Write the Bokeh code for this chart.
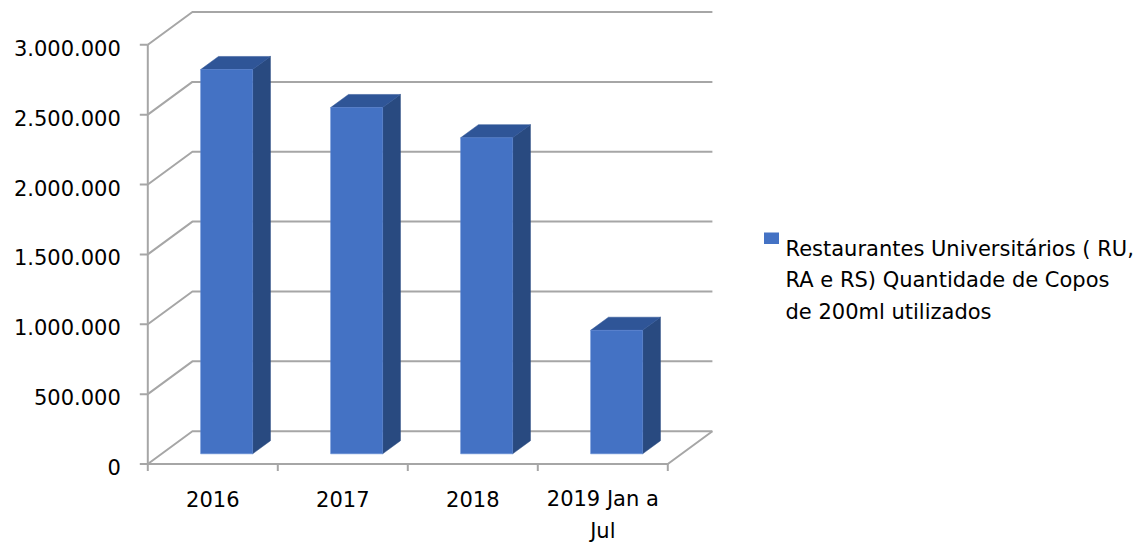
from bokeh.plotting import figure
from bokeh.models import Range1d, Label
from bokeh.embed import file_html
from bokeh.resources import INLINE
from bokeh.core.properties import value

# ---- data ----
categories = ["2016", "2017", "2018", "2019 Jan a\nJul"]
copos = [2750000, 2478000, 2262000, 884000]
y_ticks = [0, 500000, 1000000, 1500000, 2000000, 2500000, 3000000]
y_tick_labels = ["0", "500.000", "1.000.000", "1.500.000", "2.000.000", "2.500.000", "3.000.000"]
series_name = ["Restaurantes Universitários ( RU,", "RA e RS)  Quantidade de Copos", "de 200ml utilizados"]

# ---- layout (pixels) ----
W, H = 1145, 542
X0_PX, PX_PER_CAT = 147.3, 130.0
Y0_PX, PX_PER_M = 463.5, 139.73
DEPTH_DX_PX, DEPTH_DY_PX = 44.6, 32.8

xs = -X0_PX / PX_PER_CAT
xe = (W - X0_PX) / PX_PER_CAT
ye = Y0_PX / PX_PER_M * 1e6
ys = -(H - Y0_PX) / PX_PER_M * 1e6

DX = DEPTH_DX_PX / PX_PER_CAT          # depth offset in category units
DY = DEPTH_DY_PX / PX_PER_M * 1e6      # depth offset in value units
N = len(categories)

FONT = "DejaVu Sans"
FS = "21px"
GRID = "#a6a6a6"
FRONT, TOP, SIDE = "#4472C4", "#2F5597", "#294A80"

p = figure(width=W, height=H, x_range=Range1d(xs, xe), y_range=Range1d(ys, ye),
           min_border=0, toolbar_location=None, output_backend="svg")
p.axis.visible = False
p.grid.visible = False
p.outline_line_color = None
p.background_fill_color = "white"
p.border_fill_color = "white"

# back wall gridlines with slanted side wall lines
for t in y_ticks:
    p.line([0, DX, N + DX], [t, t + DY, t + DY], line_color=GRID, line_width=2)
# floor
p.line([0, N, N + DX], [0, 0, DY], line_color=GRID, line_width=2)
# vertical axis
p.line([0, 0], [0, y_ticks[-1]], line_color=GRID, line_width=2)
# y ticks
p.segment(x0=[0] * len(y_ticks), y0=y_ticks, x1=[-8 / PX_PER_CAT] * len(y_ticks), y1=y_ticks,
          line_color=GRID, line_width=2)
# x ticks
xt = list(range(N + 1))
p.segment(x0=xt, y0=[0] * len(xt), x1=xt, y1=[-7 / PX_PER_M * 1e6] * len(xt),
          line_color=GRID, line_width=2)

# bars (3D)
bw = 0.40
d0, dd = 0.31, 0.40
for i, v in enumerate(copos):
    xl = i + 0.5 - bw / 2 + d0 * DX
    xr = xl + bw
    yb = d0 * DY
    yt = v + d0 * DY
    ox, oy = dd * DX, dd * DY
    # side
    p.patch([xr, xr + ox, xr + ox, xr], [yb, yb + oy, yt + oy, yt],
            fill_color=SIDE, line_color=SIDE, line_width=0.5)
    # top
    p.patch([xl, xl + ox, xr + ox, xr], [yt, yt + oy, yt + oy, yt],
            fill_color=TOP, line_color=TOP, line_width=0.5)
    # front
    p.quad(left=xl, right=xr, bottom=yb, top=yt, fill_color=FRONT, line_color="#5a86d6",
           line_width=0.5)

# y tick labels
p.text(x=[0] * len(y_ticks), y=y_ticks, text=y_tick_labels, x_offset=-27, y_offset=3,
       text_align="right", text_baseline="middle", text_font=value(FONT),
       text_font_size=FS, text_color="#000000")

# category labels
for i, c in enumerate(categories):
    for j, line in enumerate(c.split("\n")):
        p.text(x=[i + 0.5], y=[0], text=[line], y_offset=35 + 32 * j,
               text_align="center", text_baseline="middle", text_font=value(FONT),
               text_font_size=FS, text_color="#000000")

# legend text
for k, line in enumerate(series_name):
    p.add_layout(Label(x=785, y=H - (248 + 31.5 * k), x_units="screen", y_units="screen",
                       text=line, text_baseline="alphabetic", text_font=FONT,
                       text_font_size=FS, text_color="#000000"))

# legend swatch
def px_to_x(px):
    return xs + px / W * (xe - xs)
def py_to_y(py):
    return ye - py / H * (ye - ys)
p.quad(left=[px_to_x(763.5)], right=[px_to_x(778.5)], top=[py_to_y(232)], bottom=[py_to_y(243.5)],
       fill_color=FRONT, line_color=None)

open("out.html", "w").write(file_html(p, INLINE))
